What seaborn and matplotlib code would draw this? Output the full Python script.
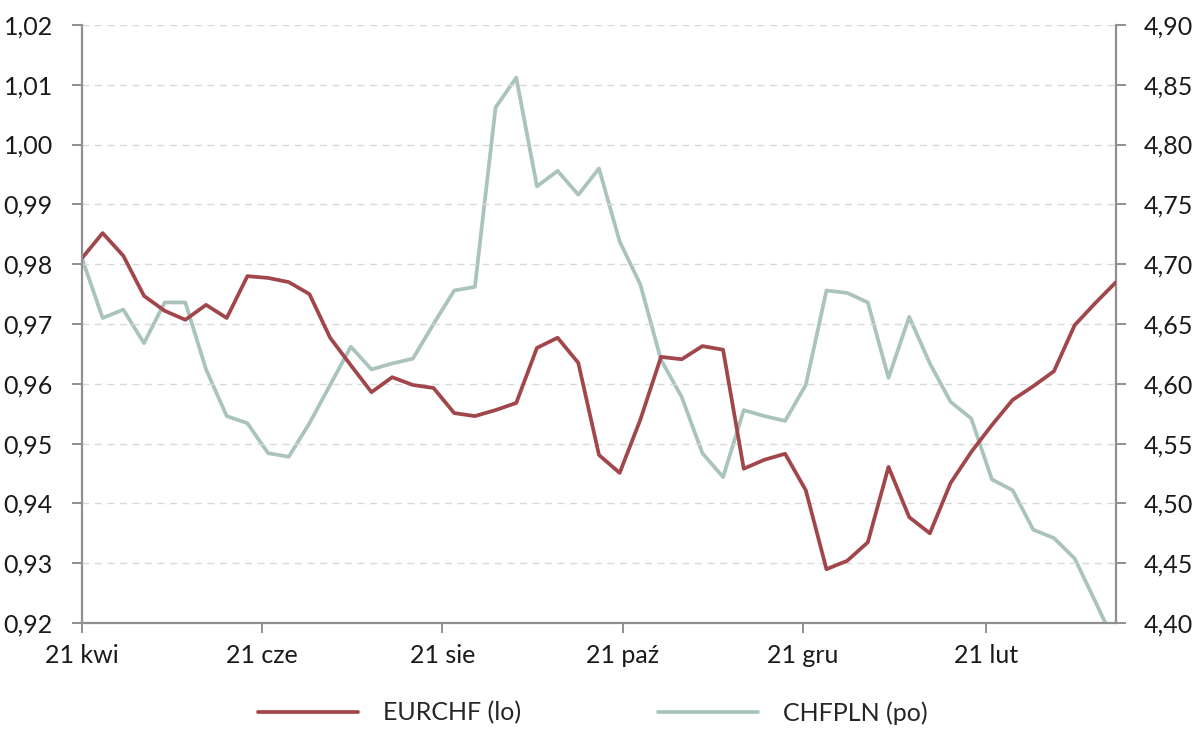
import pandas as pd
import matplotlib
matplotlib.use("Agg")
import matplotlib.pyplot as plt
import matplotlib.dates as mdates
from matplotlib.ticker import FixedLocator, FuncFormatter
import seaborn as sns

start_date = "2023-04-21"
n_weeks = 51

eurchf = [0.9810, 0.9852, 0.9814, 0.9747, 0.9722, 0.9707, 0.9732, 0.9710, 0.9780, 0.9777,
          0.9770, 0.9750, 0.9677, 0.9631, 0.9586, 0.9611, 0.9598, 0.9593, 0.9551, 0.9546,
          0.9556, 0.9568, 0.9660, 0.9677, 0.9635, 0.9481, 0.9451, 0.9540, 0.9645, 0.9641,
          0.9663, 0.9657, 0.9458, 0.9473, 0.9483, 0.9422, 0.9290, 0.9304, 0.9335, 0.9461,
          0.9377, 0.9350, 0.9434, 0.9486, 0.9531, 0.9573, 0.9596, 0.9621, 0.9698, 0.9735,
          0.9770]

chfpln = [4.705, 4.655, 4.662, 4.634, 4.668, 4.668, 4.612, 4.573, 4.567, 4.542,
          4.539, 4.567, 4.599, 4.631, 4.612, 4.617, 4.621, 4.650, 4.678, 4.681,
          4.831, 4.856, 4.765, 4.778, 4.758, 4.780, 4.719, 4.683, 4.620, 4.589,
          4.542, 4.522, 4.578, 4.573, 4.569, 4.599, 4.678, 4.676, 4.668, 4.605,
          4.656, 4.617, 4.585, 4.571, 4.520, 4.511, 4.478, 4.471, 4.454, 4.418,
          4.381]

tick_dates = ["2023-04-21", "2023-06-21", "2023-08-21", "2023-10-21", "2023-12-21", "2024-02-21"]
tick_labels = ["21 kwi", "21 cze", "21 sie", "21 paź", "21 gru", "21 lut"]

left_ticks = [0.92, 0.93, 0.94, 0.95, 0.96, 0.97, 0.98, 0.99, 1.00, 1.01, 1.02]
right_ticks = [4.40, 4.45, 4.50, 4.55, 4.60, 4.65, 4.70, 4.75, 4.80, 4.85, 4.90]

RED = "#A1464B"
GREEN = "#AAC4BC"
SPINE = "#8F8F8F"

df = pd.DataFrame({
    "data": pd.date_range(start_date, periods=n_weeks, freq="7D"),
    "EURCHF": eurchf,
    "CHFPLN": chfpln,
})

sns.set_style("white")
plt.rcParams["font.family"] = ["Lato", "DejaVu Sans"]

fig = plt.figure(figsize=(12, 7.34), dpi=100)
ax = fig.add_axes([0.0683, 0.1512, 0.8617, 0.8148])
ax2 = ax.twinx()

sns.lineplot(data=df, x="data", y="EURCHF", ax=ax, color=RED, linewidth=2.7,
             label="EURCHF (lo)", legend=False)
sns.lineplot(data=df, x="data", y="CHFPLN", ax=ax2, color=GREEN, linewidth=2.7,
             label="CHFPLN (po)", legend=False)
ax.set_zorder(ax2.get_zorder() + 1)
ax.patch.set_visible(False)

ax.set_xlim(df["data"].iloc[0], df["data"].iloc[-1])
ax.set_ylim(0.92, 1.02)
ax2.set_ylim(4.40, 4.90)

ax.set_yticks(left_ticks)
ax2.set_yticks(right_ticks)
ax.yaxis.set_major_formatter(FuncFormatter(lambda v, p: f"{v:.2f}".replace(".", ",")))
ax2.yaxis.set_major_formatter(FuncFormatter(lambda v, p: f"{v:.2f}".replace(".", ",")))

ax.xaxis.set_major_locator(FixedLocator(mdates.date2num(pd.to_datetime(tick_dates))))
ax.set_xticklabels(tick_labels)

ax.set_xlabel("")
ax.set_ylabel("")
ax2.set_ylabel("")

ax.grid(axis="y", linestyle=(0, (5, 4)), color="#D9D9D9", linewidth=1)
ax.grid(axis="x", visible=False)
ax2.grid(False)

for a in (ax, ax2):
    for s in a.spines.values():
        s.set_visible(False)
ax.spines["left"].set_visible(True)
ax.spines["bottom"].set_visible(True)
ax2.spines["right"].set_visible(True)
for s in (ax.spines["left"], ax.spines["bottom"], ax2.spines["right"]):
    s.set_color(SPINE)
    s.set_linewidth(1.6)

ax.tick_params(axis="y", length=7, width=1.4, color=SPINE, pad=14,
               labelsize=18, labelcolor="#1a1a1a", direction="out", left=True)
ax.tick_params(axis="x", length=7, width=1.4, color=SPINE, pad=8,
               labelsize=18, labelcolor="#1a1a1a", direction="out", bottom=True)
ax2.tick_params(axis="y", length=7, width=1.4, color=SPINE, pad=13,
                labelsize=18, labelcolor="#1a1a1a", direction="out", right=True)

handles = ax.get_lines()[:1] + ax2.get_lines()[:1]
fig.legend(handles, ["EURCHF (lo)", "CHFPLN (po)"], loc="center",
           bbox_to_anchor=(0.494, 0.029), ncol=2, frameon=False, fontsize=18,
           handlelength=4.0, handletextpad=1.0, columnspacing=5.5)

fig.savefig("out.png", dpi=100)
